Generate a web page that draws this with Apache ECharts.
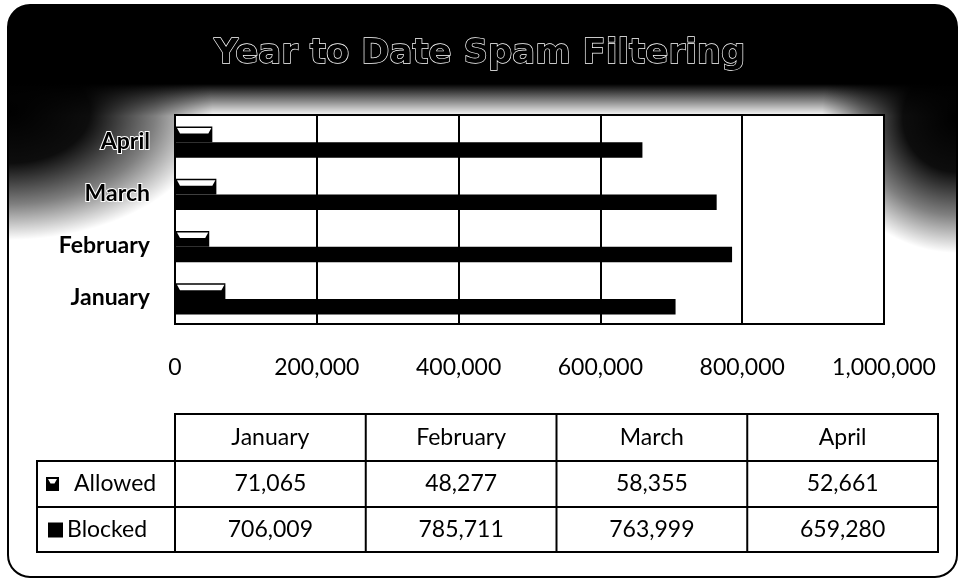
<!DOCTYPE html>
<html>
<head>
<meta charset="utf-8">
<title>Year to Date Spam Filtering</title>
<script src="https://cdn.jsdelivr.net/npm/echarts@6/dist/echarts.min.js"></script>
<style>
  html, body { margin: 0; padding: 0; background: #fff; }
  #chart { width: 959px; height: 579px; }
</style>
</head>
<body>
<div id="chart"></div>
<script>
// Monthly spam filter totals
const categories = ['January', 'February', 'March', 'April'];
const seriesNames = ['Allowed', 'Blocked'];
const allowed = [71065, 48277, 58355, 52661];
const blocked = [706009, 785711, 763999, 659280];

// Value axis ticks
const axisMax = 1000000;
const axisStep = 200000;
const xTickLabels = ['0', '200,000', '400,000', '600,000', '800,000', '1,000,000'];

const FONT = 'Lato, "Open Sans", sans-serif';
const TITLE_FONT = '"DejaVu Sans", sans-serif';

// Plot box
const PLOT = { left: 175, top: 115, right: 884, bottom: 324 };
// Share of a category band taken by each of the two bars
const BAR_SHARE = 0.3;
const CENTER_SHIFT = 1;

// Data table under the plot
const TABLE = { legendLeft: 37, left: 175, right: 938, rows: [414, 461, 507, 552] };

const chart = echarts.init(document.getElementById('chart'), null, { renderer: 'canvas' });

function barRect(api, above) {
  const val = api.value(0);
  const cat = api.value(1);
  const p0 = api.coord([0, cat]);
  const p1 = api.coord([val, cat]);
  const band = api.size([0, 1])[1];
  const h = band * BAR_SHARE;
  const cy = p0[1] + CENTER_SHIFT;
  return { x: p0[0], y: above ? cy - h : cy, width: p1[0] - p0[0], height: h };
}

// Allowed bars carry a bevel highlight along their top edge
function renderAllowed(params, api) {
  const r = barRect(api, true);
  const x0 = r.x, x1 = r.x + r.width, y0 = r.y;
  return {
    type: 'group',
    children: [
      { type: 'rect', shape: r, style: { fill: '#000' } },
      {
        type: 'polygon',
        shape: { points: [[x0 + 2, y0 + 1.5], [x1 - 1, y0 + 1.5], [x1 - 4, y0 + 7], [x0 + 5, y0 + 7]] },
        style: { fill: '#fff' }
      }
    ]
  };
}

function renderBlocked(params, api) {
  const r = barRect(api, false);
  return { type: 'rect', shape: r, style: { fill: '#000' } };
}

// Table graphics
const tableEls = [];
const colW = (TABLE.right - TABLE.left) / categories.length;
const LW = 2;
function hLine(x1, x2, y) {
  tableEls.push({ type: 'line', shape: { x1, y1: y, x2, y2: y }, style: { stroke: '#000', lineWidth: LW } });
}
function vLine(x, y1, y2) {
  tableEls.push({ type: 'line', shape: { x1: x, y1, x2: x, y2 }, style: { stroke: '#000', lineWidth: LW } });
}
function cellText(text, x, y, align) {
  tableEls.push({
    type: 'text',
    style: { text, x, y, align: align || 'center', verticalAlign: 'middle', fill: '#000', font: '23px ' + FONT }
  });
}
hLine(TABLE.left, TABLE.right, TABLE.rows[0]);
for (let i = 1; i < TABLE.rows.length; i++) hLine(TABLE.legendLeft - 1, TABLE.right + 1, TABLE.rows[i]);
vLine(TABLE.legendLeft, TABLE.rows[1], TABLE.rows[3]);
for (let c = 0; c <= categories.length; c++) vLine(TABLE.left + c * colW, TABLE.rows[0] - 1, TABLE.rows[3] + 1);

const rowMid = i => (TABLE.rows[i] + TABLE.rows[i + 1]) / 2;
categories.forEach((name, c) => {
  const cx = TABLE.left + (c + 0.5) * colW;
  cellText(name, cx, rowMid(0));
  cellText(allowed[c].toLocaleString('en-US'), cx, rowMid(1));
  cellText(blocked[c].toLocaleString('en-US'), cx, rowMid(2));
});

// Legend keys inside the table
const y1 = rowMid(1), y2 = rowMid(2);
tableEls.push({ type: 'rect', shape: { x: 46, y: y1 - 7, width: 13, height: 14 }, style: { fill: '#000' } });
tableEls.push({ type: 'polygon', shape: { points: [[48, y1 - 5], [57, y1 - 5], [54.5, y1 - 0.5], [50.5, y1 - 0.5]] }, style: { fill: '#fff' } });
cellText(seriesNames[0], 74, y1, 'left');
tableEls.push({ type: 'rect', shape: { x: 48, y: y2 - 7, width: 15, height: 15 }, style: { fill: '#000' } });
cellText(seriesNames[1], 67, y2, 'left');

// Frame: black head fading to white, darker down the two sides
const frame = { x: 8, y: 5, width: 949, height: 572, r: 22 };
const fade = (stops) => stops.map(([o, a]) => ({ offset: o, color: 'rgba(0,0,0,' + a + ')' }));
const sideStops = [[0, 1], [0.4, 0.95], [0.72, 0.5], [1, 0]];
const background = [
  { type: 'rect', z: -10, shape: frame, style: { fill: '#000' } },
  {
    type: 'rect', z: -9,
    shape: { x: 8, y: 84, width: 949, height: 493, r: [0, 0, 22, 22] },
    style: {
      fill: new echarts.graphic.LinearGradient(0, 0, 0, 1, [
        { offset: 0, color: 'rgba(255,255,255,0)' },
        { offset: 32 / 493, color: 'rgba(255,255,255,1)' },
        { offset: 1, color: 'rgba(255,255,255,1)' }
      ])
    }
  },
  {
    type: 'rect', z: -8, x: 8, y: 0, scaleX: 1.6,
    shape: { x: 0, y: 30, width: 140, height: 260 },
    style: { fill: new echarts.graphic.RadialGradient(0, 112, 128, fade(sideStops), true) }
  },
  {
    type: 'rect', z: -8, x: 957, y: 0,
    shape: { x: -150, y: 30, width: 150, height: 260 },
    style: { fill: new echarts.graphic.RadialGradient(0, 118, 135, fade(sideStops), true) }
  },
  { type: 'rect', z: -7, shape: frame, style: { fill: 'none', stroke: '#000', lineWidth: 2 } }
];

const option = {
  animation: false,
  backgroundColor: '#fff',
  title: {
    text: 'Year to Date Spam Filtering',
    left: 'center',
    top: 32,
    textStyle: {
      fontFamily: TITLE_FONT, fontSize: 34, fontWeight: 'bold',
      color: '#000', textBorderColor: '#fff', textBorderWidth: 1.3
    }
  },
  grid: {
    left: PLOT.left, top: PLOT.top,
    width: PLOT.right - PLOT.left, height: PLOT.bottom - PLOT.top,
    show: true, backgroundColor: '#fff', borderColor: '#000', borderWidth: 2,
    containLabel: false
  },
  xAxis: {
    type: 'value', min: 0, max: axisMax, interval: axisStep,
    axisLine: { show: false }, axisTick: { show: false },
    splitLine: { show: true, lineStyle: { color: '#000', width: 2 } },
    axisLabel: {
      margin: 32, color: '#000', fontFamily: FONT, fontSize: 23,
      formatter: v => xTickLabels[Math.round(v / axisStep)]
    }
  },
  yAxis: {
    type: 'category', data: categories,
    axisLine: { show: true, lineStyle: { color: '#000', width: 2 } },
    axisTick: { show: false },
    splitLine: { show: false },
    axisLabel: {
      margin: 25, color: '#000', fontFamily: FONT, fontSize: 23, fontWeight: 'bold',
      textBorderColor: '#fff', textBorderWidth: 2
    }
  },
  series: [
    {
      name: seriesNames[0], type: 'custom', renderItem: renderAllowed,
      encode: { x: 0, y: 1 },
      data: allowed.map((v, i) => [v, i])
    },
    {
      name: seriesNames[1], type: 'custom', renderItem: renderBlocked,
      encode: { x: 0, y: 1 },
      data: blocked.map((v, i) => [v, i])
    }
  ],
  graphic: { elements: background.concat(tableEls) }
};

chart.setOption(option);
</script>
</body>
</html>
